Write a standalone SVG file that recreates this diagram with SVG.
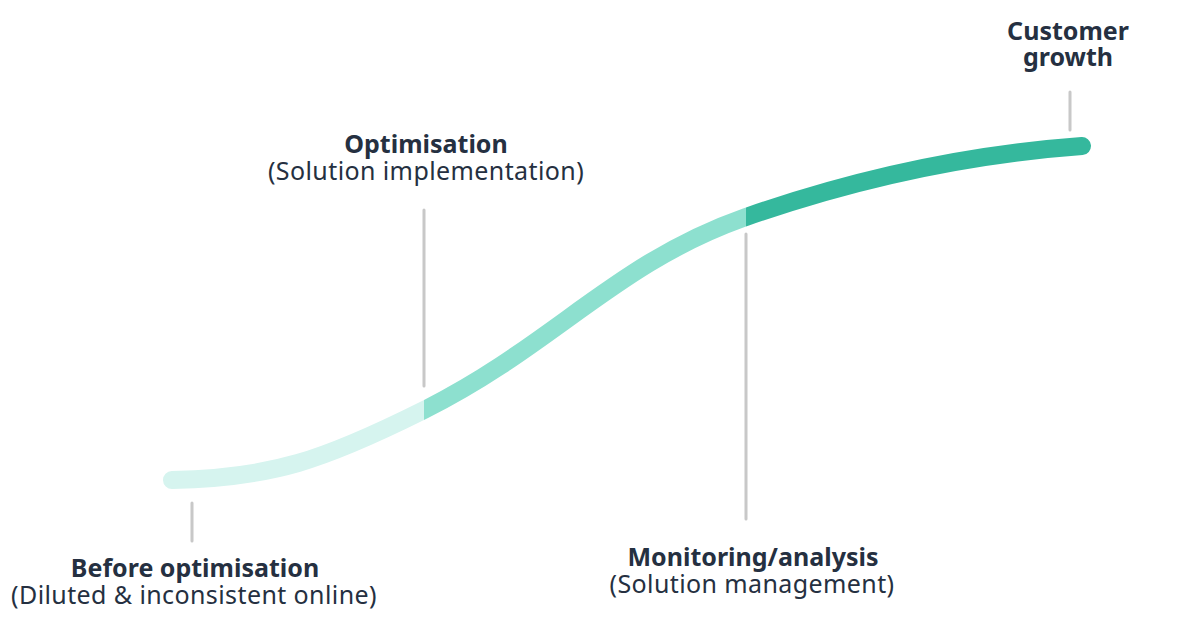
<svg xmlns="http://www.w3.org/2000/svg" width="1200" height="643" viewBox="0 0 1200 643">
<style>
.t{font-family:"Noto Sans","Liberation Sans",sans-serif;font-size:25px;fill:#253041;text-anchor:middle;letter-spacing:0.4px}
.b{font-weight:bold;letter-spacing:0}
.g{stroke:#c8c8c8;stroke-width:3;stroke-linecap:round;fill:none}
.c{fill:none;stroke-width:18;stroke-linecap:round}
</style>
<defs>
<path id="curve" d="M172,480 C272,478 324,460 424,410 C554,345 616,262.5 746,217 C856,178.5 972,154 1082,146"/>
<clipPath id="c1"><rect x="0" y="0" width="424" height="643"/></clipPath>
<clipPath id="c2"><rect x="424" y="0" width="322" height="643"/></clipPath>
<clipPath id="c3"><rect x="746" y="0" width="454" height="643"/></clipPath>
</defs>
<g id="connectors">
<use href="#curve" class="c" stroke="#d6f4ef" clip-path="url(#c1)"/>
<use href="#curve" class="c" stroke="#8de0cf" clip-path="url(#c2)"/>
<use href="#curve" class="c" stroke="#35b89d" clip-path="url(#c3)"/>
<line class="g" x1="192" y1="503" x2="192" y2="541"/>
<line class="g" x1="424" y1="210" x2="424" y2="386"/>
<line class="g" x1="746" y1="234" x2="746" y2="519"/>
<line class="g" x1="1070" y1="92" x2="1070" y2="130"/>
</g>
<g id="before">
<text class="t b" x="195" y="577">Before optimisation</text>
<text class="t" x="194" y="604">(Diluted &amp; inconsistent online)</text>
</g>
<g id="optimisation">
<text class="t b" x="426" y="153">Optimisation</text>
<text class="t" x="426" y="180">(Solution implementation)</text>
</g>
<g id="monitoring">
<text class="t b" x="753" y="566">Monitoring/analysis</text>
<text class="t" x="752" y="593">(Solution management)</text>
</g>
<g id="customer">
<text class="t b" x="1068" y="40">Customer</text>
<text class="t b" x="1068" y="66">growth</text>
</g>
</svg>
